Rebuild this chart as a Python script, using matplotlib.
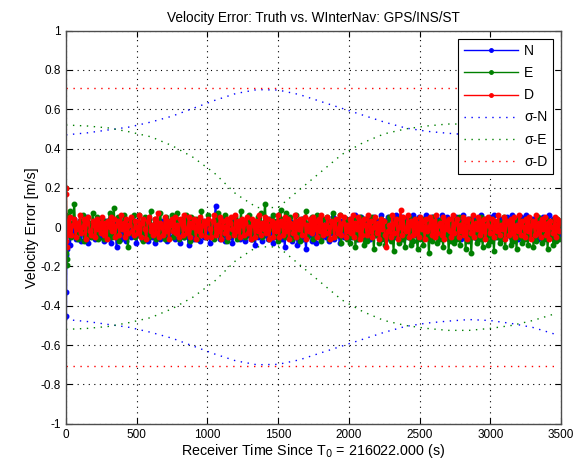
import numpy as np
import matplotlib
matplotlib.use("Agg")
import matplotlib.pyplot as plt

plt.rcParams['font.family'] = ['Liberation Sans', 'DejaVu Sans']

# first samples after start (transient), m/s
t_start = [0, 1, 2, 3, 4, 5]
n_start = [-0.45, -0.33, -0.19, -0.14, -0.11, -0.09]
e_start = [0.20, 0.06, -0.03, -0.13, -0.16, -0.19]
d_start = [0.20, 0.17, 0.03, -0.07, -0.10, -0.04]

# velocity errors, in cm/s, one value every ~10 s
n_cm = [-4, 2, -9, 1, -3, 4, -6, 0, -2, 3, -7, -1, 2, -5, 5, -8, -2, 1, -4, 3, -6, 0, -3, 2, -5,
        1, -7, 3, -2, -5, 4, -8, 0, -3, 2, -10, -1, 3, -6, 1, -4, 4, -7, -2, 2, -5, 0, -3, 3, -8,
        0, -4, 2, -6, 3, -3, -1, -7, 4, -2, -5, 1, -8, 2, -3, 0, -6, 3, -4, -2, 2, -7, 1, -5, 3,
        -2, -6, 4, -3, 0, -8, 2, -1, -5, 3, -4, -9, 1, -2, 4, -6, 0, -3, 2, -7, -1, 3, -5, 0, -4,
        2, -8, -1, 3, -5, 11, -3, 0, -6, 2, -4, 4, -7, -1, 1, -5, 3, -8, -2, 2, -4, 0, -6, 3, -3,
        -1, -7, 2, -4, 4, -6, 0, -3, -9, 1, -5, 3, -2, -7, 2, -4, 0, -6, 4, -3, -1, -8, 2, -5, 1,
        -3, 3, -6, 0, -10, 2, -4, -2, 3, -7, 1, -5, 0, -9, 2, -3, 4, -6, -1, -11, 1, -4, 3, -7, 0,
        -2, -8, 2, -4, 4, -6, -1, 1, -5, 3, -7, 0, -3, 5, -6, -2, 2, -4, -8, 3, -1, -5, 4, -3, 1,
        4, -5, 2, -3, 6, -6, 1, -4, 5, -2, -5, 3, -1, 4, -6, 2, -3, 5, -4, 0, 3, -5, 6, -2, -4,
        3, -6, 5, -1, -3, 4, -5, 2, 6, -4, 0, -3, 5, -6, 1, 4, -2, -5, 3, -1, 6, -4, 2, -3, 5,
        -5, 4, -1, -4, 6, -3, 2, -6, 5, -2, 3, -5, 4, 0, -3, 6, -4, 1, -2, 5, -6, 3, -1, 4, -3,
        5, -2, -4, 3, -6, 6, -1, 2, -5, 4, -3, 0, 5, -4, 3, -6, 2, -2, 6, -5, 1, 4, -3, -1, 5,
        -4, 3, 6, -5, 1, -2, 4, -6, 3, 0, -4, 5, -3, 2, -5, 6, -1, -3, 4, -6, 2, 5, -4, 1, -2,
        6, -3, 2, -5, 4, -1, -4, 5, -6, 3, 0, -2, 5, -4, 2, -3, 6, -5, 1, 4, -3, -6, 3, 2, -4]
e_cm = [5, -3, 8, -5, 2, 12, -4, 1, -6, 3, -2, 6, -7, 0, 4, -4, 2, -5, 7, -1, -3, 5, -6, 2, -2,
        4, -6, 1, 3, -4, 7, -2, -5, 10, -3, 0, 5, -7, 2, -1, 6, -4, 3, -10, 1, 4, -3, 6, -5, 0,
        -2, 6, -4, 2, -7, 5, -1, 3, -5, 8, -3, 0, 4, -6, 2, -2, 7, -4, 1, -6, 5, -3, 3, -1, 6,
        -5, 2, -3, 7, -6, 1, 4, -2, -5, 6, -1, 3, -7, 5, -3, 0, 4, -6, 2, -4, 8, -2, 1, -5, 3,
        6, -4, 2, -1, -6, 5, -3, 7, 0, -5, 3, -2, 6, -7, 1, 4, -4, 2, -1, 5, -6, 3, -3, 8, -2,
        2, -5, 4, -3, 6, -1, -6, 3, 1, -4, 5, -2, 7, -5, 0, 12, -3, 2, -6, 4, -1, 6, -4, 3, -7,
        1, 9, -2, 4, -5, 7, -3, 0, 5, -6, 2, -1, 6, -4, 3, -7, 4, 1, -3, 8, -5, 2, -2, 5, -6,
        3, -1, 6, -4, 2, -7, 4, 0, -3, 5, -6, 2, -2, 7, -5, 1, 3, -4, 6, -8, 2, -1, 4, -6, 3,
        -8, 3, -5, 4, -10, 1, -6, 5, -3, 2, -9, 4, -7, 0, 3, -5, 5, -11, 2, -4, 1, -8, 4, -6, 3,
        -9, 2, -5, 5, -7, 0, -12, 3, -4, 4, -8, 1, -6, 3, -10, 2, -5, 5, -9, 0, -7, 4, -3, -11, 2,
        -6, 4, -9, 1, -5, 3, -13, 2, -7, 5, -4, 0, -8, 3, -6, 4, -10, 1, -5, 2, -12, 3, -7, 4, -8,
        0, -6, 5, -9, 2, -4, 3, -11, 1, -7, 4, -13, 2, -5, 3, -8, 0, -6, 5, -10, 1, -4, 3, -9, 2,
        -7, 4, -12, 1, -5, 3, -8, 2, -6, 5, -10, 0, -4, 3, -9, 2, -7, 4, -11, 1, -5, 3, -8, 2, -6,
        4, -9, 1, -5, 3, -10, 2, -7, 5, -4, 0, -8, 3, -6, 4, -11, 2, -5, 3, -9, 1, -7, 4, -6, 3]
d_cm = [3, -2, 5, -4, 1, 4, -5, 2, -1, 6, -3, 0, 4, -6, 2, 5, -2, -4, 3, 1, -5, 4, -1, 2, -3,
        5, -4, 2, -6, 3, 0, 5, -2, 4, -5, 1, 3, -4, 6, -1, 2, -5, 4, -3, 1, 5, -2, -4, 3, 0,
        -3, 6, -5, 2, 4, -1, -6, 3, 5, -2, 1, -4, 4, -3, 7, -5, 2, 0, -4, 5, -2, 3, -6, 1, 4,
        -2, 5, -3, 1, -5, 4, 2, -4, 6, -1, -3, 5, -5, 2, 0, 4, -6, 3, -2, 5, -4, 1, 3, -5, 2,
        4, -1, -5, 3, 6, -4, 1, -2, 5, -6, 3, 0, -3, 4, -5, 2, 5, -1, -4, 6, -2, 3, -5, 1, 4,
        -4, 2, 5, -3, 0, -6, 4, 1, -5, 3, -2, 6, -4, 2, -1, 5, -3, 4, -6, 1, 3, -5, 2, -2, 6,
        -5, 3, 1, -4, 5, -2, 4, -6, 2, 0, -3, 6, -5, 3, -1, 4, -4, 2, 5, -6, 1, -2, 4, -3, 5,
        -1, 3, -5, 4, -2, 6, -4, 1, -3, 5, 0, -6, 3, 2, -5, 4, -1, -3, 6, -4, 2, 5, -5, 1, -2,
        4, -3, 6, -5, 2, -1, 5, -6, 3, -4, 4, 1, -4, 6, -2, 3, -5, 0, 5, -3, 2, -6, 4, -1, 3,
        -4, -10, -2, 1, -5, 6, -3, 2, 4, -6, 0, 9, -4, 5, -1, -2, 6, -5, 3, 1, -4, 4, -3, 2, -5,
        5, -1, 3, -6, 4, -2, 0, 5, -4, 3, -5, 6, -3, 1, 2, -4, 5, -6, 3, -1, 4, -2, -5, 6, -3,
        2, 4, -5, 1, -2, 5, -4, 3, -6, 4, 0, -3, 6, -5, 2, -1, 5, -4, 3, -2, 4, -6, 1, 5, -3,
        0, 4, -5, 3, -2, 6, -4, 1, -1, 5, -6, 3, 2, -4, 4, -3, 5, -5, 1, -2, 6, -4, 3, 0, -5,
        4, -2, 5, -6, 1, 3, -4, 6, -3, 2, -5, 4, -1, 5, -4, 2, -6, 3, 0, -3, 5, -5, 4, -2, 3]

# 1-sigma bounds, m/s
t_sig = [0, 150, 300, 450, 600, 750, 900, 1050, 1200, 1350, 1500, 1650, 1800, 1950,
         2100, 2250, 2400, 2550, 2700, 2850, 3000, 3150, 3300, 3460]
sig_n = [0.47, 0.48, 0.495, 0.51, 0.535, 0.565, 0.605, 0.645, 0.68, 0.70, 0.698, 0.675,
         0.64, 0.605, 0.57, 0.535, 0.505, 0.488, 0.478, 0.47, 0.475, 0.49, 0.51, 0.545]
sig_e = [0.52, 0.515, 0.505, 0.485, 0.46, 0.415, 0.355, 0.275, 0.17, 0.10, 0.10, 0.19,
         0.28, 0.37, 0.43, 0.475, 0.50, 0.515, 0.525, 0.525, 0.515, 0.50, 0.475, 0.44]
sig_d = [0.707] * len(t_sig)


def series(start_v, vals_cm):
    t = np.concatenate([t_start, np.linspace(8, 3495, len(vals_cm))])
    return t, np.concatenate([start_v, np.array(vals_cm) / 100.0])


fig = plt.figure(figsize=(5.81, 4.67), dpi=100)
ax = fig.add_axes([0.1136, 0.0927, 0.852, 0.8416])

blue, green, red = (0, 0, 1), (0, 0.5, 0), (1, 0, 0)
for vals, st, c, lab in [(n_cm, n_start, blue, 'N'), (e_cm, e_start, green, 'E'),
                         (d_cm, d_start, red, 'D')]:
    t, v = series(st, vals)
    ax.plot(t, v, '-', marker='.', ms=6.5, lw=1.5, color=c, label=lab)

dots = (0, (1, 4))
ts = np.array(t_sig)
for s, c, lab in [(sig_n, blue, 'σ-N'), (sig_e, green, 'σ-E'), (sig_d, red, 'σ-D')]:
    s = np.array(s)
    ax.plot(ts, s, linestyle=dots, lw=1, color=c, label=lab)
    ax.plot(ts, -s, linestyle=dots, lw=1, color=c)

ax.set_xlim(0, 3500)
ax.set_ylim(-1, 1)
ax.set_xticks(np.arange(0, 3501, 500))
ax.set_yticks(np.round(np.arange(-1, 1.01, 0.2), 1))
ax.set_yticklabels(['-1', '-0.8', '-0.6', '-0.4', '-0.2', '0', '0.2', '0.4', '0.6', '0.8', '1'])
ax.grid(True, color='k', linestyle=(0, (1, 4)), lw=0.8)
ax.tick_params(direction='in', top=True, right=True, labelsize=8.5, length=4, width=0.8)
for sp in ax.spines.values():
    sp.set_color('0.3')
    sp.set_linewidth(1.0)

ax.set_title('Velocity Error: Truth vs. WInterNav: GPS/INS/ST', fontsize=9.8, pad=6)
ax.set_xlabel('Receiver Time Since T$_0$ = 216022.000 (s)', fontsize=10.3, labelpad=1)
ax.set_ylabel('Velocity Error [m/s]', fontsize=10.3, labelpad=1)

leg = ax.legend(loc='upper right', numpoints=1, fontsize=10, handlelength=3.9,
                handletextpad=0.43, labelspacing=0.58, borderpad=0.4, fancybox=False,
                framealpha=1, edgecolor='k', borderaxespad=0.58)
leg.get_frame().set_linewidth(0.8)
for h in leg.get_lines()[:3]:
    h.set_linewidth(1)
    h.set_markersize(5)

fig.savefig('out.png', dpi=100)
